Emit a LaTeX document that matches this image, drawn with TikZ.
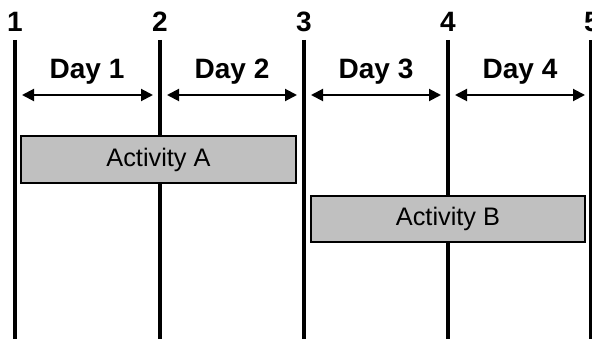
\documentclass[tikz,border=0pt]{standalone}
\usepackage{fontspec}
\setmainfont{Liberation Sans}
\usetikzlibrary{arrows.meta}
\definecolor{actgray}{RGB}{192,192,192}

\tikzset{
  dayline/.style={line width=2.4pt},
  daynum/.style={font=\bfseries\fontsize{21}{21}\selectfont, anchor=base, inner sep=0pt},
  daylabel/.style={font=\bfseries\fontsize{21}{21}\selectfont, anchor=base, inner sep=0pt},
  dayspan/.style={line width=1.5pt, {Triangle[length=9pt,width=9pt]}-{Triangle[length=9pt,width=9pt]}},
  activity/.style={draw, line width=1.5pt, fill=actgray, minimum width=206pt,
    minimum height=35pt, inner sep=0pt, font=\fontsize{19}{19}\selectfont}
}

\begin{document}
\begin{tikzpicture}[x=0.75pt,y=0.75pt]
    \useasboundingbox (0,0) rectangle (592,339);
    % day boundaries
    \node[daynum] (n1) at (15,307)  {1};
    \node[daynum] (n2) at (160,307) {2};
    \node[daynum] (n3) at (304,307) {3};
    \node[daynum] (n4) at (448,307) {4};
    \node[daynum] (n5) at (592,307) {5};
    \coordinate (t1) at (15,299);  \coordinate (b1) at (15,0);
    \coordinate (t2) at (160,299); \coordinate (b2) at (160,0);
    \coordinate (t3) at (304,299); \coordinate (b3) at (304,0);
    \coordinate (t4) at (448,299); \coordinate (b4) at (448,0);
    \coordinate (t5) at (591,299); \coordinate (b5) at (591,0);
    \draw[dayline] (t1) -- (b1);
    \draw[dayline] (t2) -- (b2);
    \draw[dayline] (t3) -- (b3);
    \draw[dayline] (t4) -- (b4);
    \draw[dayline] (t5) -- (b5);
    % days
    \node[daylabel] (day1) at (87,260)  {Day 1};
    \node[daylabel] (day2) at (232,260) {Day 2};
    \node[daylabel] (day3) at (376,260) {Day 3};
    \node[daylabel] (day4) at (520,260) {Day 4};
    \coordinate (s1) at (22,244);  \coordinate (e1) at (153,244);
    \coordinate (s2) at (167,244); \coordinate (e2) at (297,244);
    \coordinate (s3) at (311,244); \coordinate (e3) at (441,244);
    \coordinate (s4) at (455,244); \coordinate (e4) at (585,244);
    \draw[dayspan] (s1) -- (e1);
    \draw[dayspan] (s2) -- (e2);
    \draw[dayspan] (s3) -- (e3);
    \draw[dayspan] (s4) -- (e4);
    % activities
    \node[activity] (actA) at (158.5,179.5) {Activity A};
    \node[activity] (actB) at (448,120)     {Activity B};
\end{tikzpicture}
\end{document}
